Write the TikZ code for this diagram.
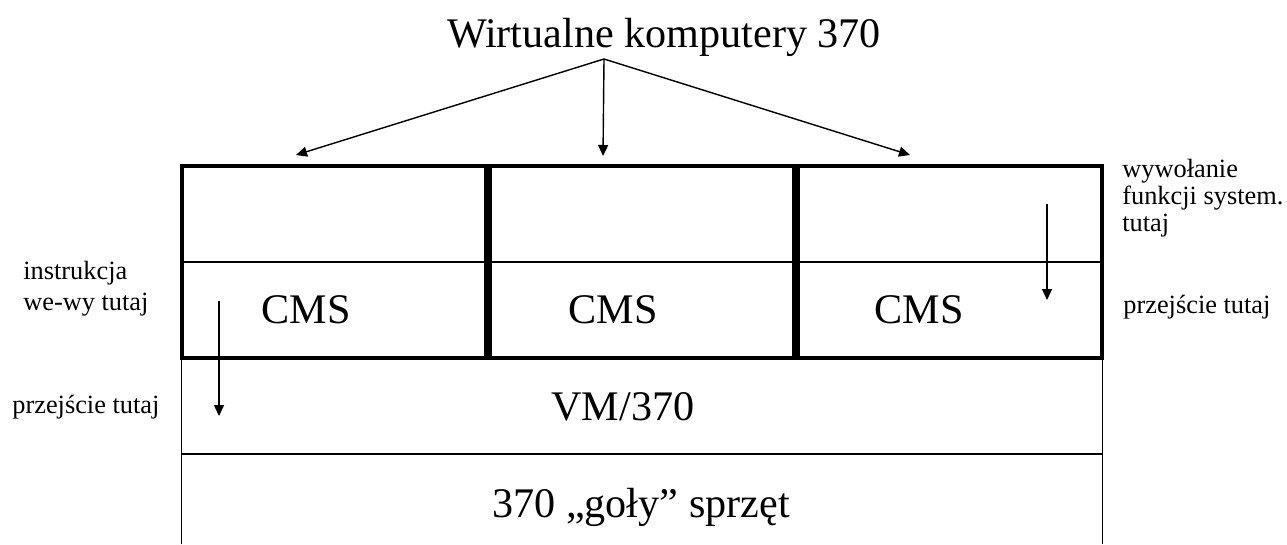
\documentclass[tikz,border=0pt]{standalone}
\usepackage{fontspec}
\setmainfont{Liberation Serif}
\newfontfamily\timesfont{Liberation Serif}
\usetikzlibrary{arrows.meta, positioning}

\begin{document}
\begin{tikzpicture}[
    x=0.02cm, y=-0.02cm,
    vmbox/.style={rectangle, draw=black, line width=0.08cm, minimum width=6.08cm, minimum height=3.84cm, inner sep=0pt},
    layer/.style={draw=black, line width=0.6pt},
    big/.style={inner sep=0pt, font=\timesfont\fontsize{24}{28}\selectfont},
    note/.style={inner sep=0pt, align=left, anchor=west, font=\timesfont\fontsize{15}{17.6}\selectfont},
    arrow/.style={-{Triangle[length=0.22cm, width=0.2cm]}, line width=0.8pt}
]
\useasboundingbox (0,0) rectangle (1287,544);
\node[rectangle, minimum width=18.4cm, minimum height=1.92cm, inner sep=0pt] (vmlayer) at (642,406) {};
\node[rectangle, minimum width=18.4cm, minimum height=1.8cm, inner sep=0pt] (hw) at (642,499) {};
\draw[layer] (vmlayer.south west) -- (vmlayer.north west) -- (vmlayer.north east) -- (vmlayer.south east) -- cycle;
\draw[layer] (hw.south west) -- (hw.north west) -- (hw.north east) -- (hw.south east);
\node[vmbox] (vm1) at (334,262) {};
\node[vmbox, right=0cm of vm1] (vm2) {};
\node[vmbox, right=0cm of vm2] (vm3) {};
\draw[layer] (vm1.west) -- (vm3.east);
\node[big] (cms1) at (306,310) {CMS};
\node[big] (cms2) at (613,310) {CMS};
\node[big] (cms3) at (919,310) {CMS};
\node[big] (vmtext) at (623,407) {VM/370};
\node[big] (hwtext) at (641,507) {370 „goły” sprzęt};
\node[big] (title) at (664,37) {Wirtualne komputery 370};
\coordinate (fork) at (604,59);
\coordinate (tip1) at (296,155);
\coordinate (tip2) at (603,156);
\coordinate (tip3) at (910,155);
\draw[arrow] (fork) -- (tip1);
\draw[arrow] (fork) -- (tip2);
\draw[arrow] (fork) -- (tip3);
\coordinate (iotop) at (219,301);
\coordinate (iobot) at (219,416);
\coordinate (systop) at (1047,204);
\coordinate (sysbot) at (1047,300);
\draw[arrow] (iotop) -- (iobot);
\draw[arrow] (systop) -- (sysbot);
\node[note] (iolbl) at (23,289) {instrukcja\\we-wy tutaj};
\node[note] (trapleft) at (12,407) {przejście tutaj};
\node[note, font=\timesfont\fontsize{15}{15.3}\selectfont] (syslbl) at (1122,198) {wywołanie\\funkcji system.\\tutaj};
\node[note] (trapright) at (1123,307) {przejście tutaj};
\end{tikzpicture}
\end{document}
